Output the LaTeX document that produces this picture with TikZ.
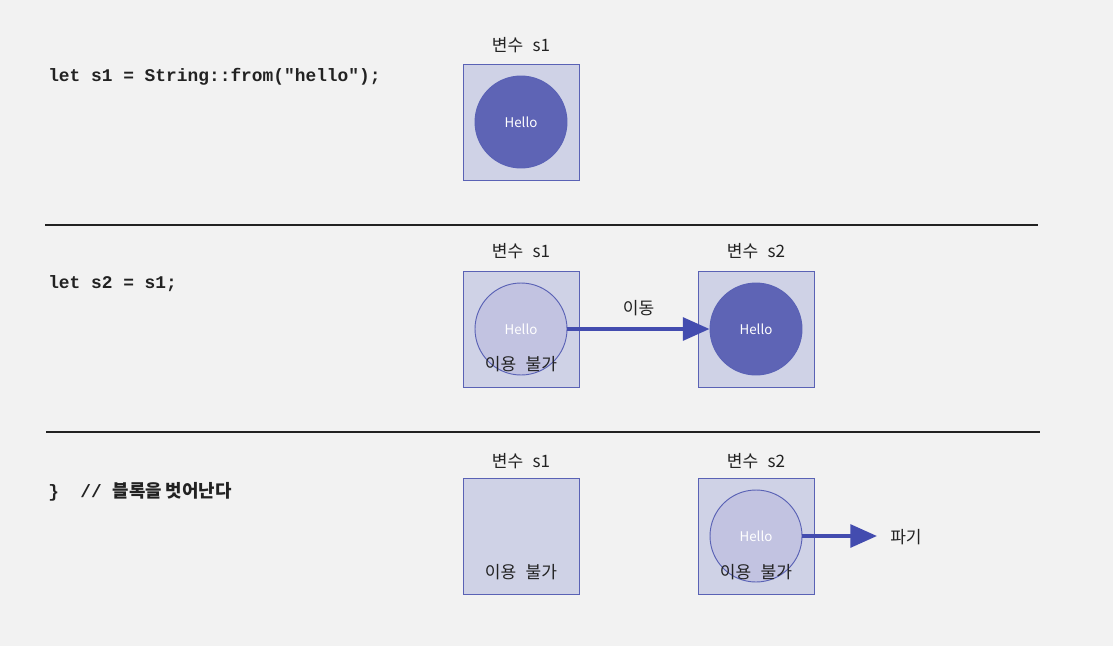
\documentclass[tikz,border=0pt]{standalone}
\usepackage{fontspec}
\setmainfont{Noto Sans CJK KR}
\newfontfamily\codefont{Liberation Mono}
\newfontfamily\cjk{Noto Sans CJK KR}
\usepackage{tikz}
\usetikzlibrary{positioning,arrows.meta}
\definecolor{bg}{HTML}{F2F2F2}
\definecolor{boxfill}{HTML}{CFD2E6}
\definecolor{boxline}{HTML}{5A62B5}
\definecolor{full}{HTML}{5E64B5}
\definecolor{faded}{HTML}{C2C3E1}
\definecolor{arr}{HTML}{434CAF}
\definecolor{txt}{HTML}{222222}
\newcommand{\gap}{\hspace{0.55em}}

\begin{document}
\begin{tikzpicture}[
	x=0.75pt, y=-0.75pt,
	var/.style={
		draw=boxline,
		fill=boxfill,
		line width=0.6pt,
		minimum size=87pt,
		inner sep=0pt
	},
	val/.style={
		draw=boxline,
		fill=full,
		circle,
		line width=0.7pt,
		minimum size=69pt,
		inner sep=0pt,
		text=white,
		font=\fontsize{10}{12}\selectfont
	},
	gone/.style={
		val,
		fill=faded
	},
	tag/.style={
		text=txt,
		inner sep=0pt,
		font=\fontsize{12.8}{14}\selectfont
	},
	src/.style={
		anchor=west,
		text=txt,
		inner sep=0pt,
		font=\codefont\bfseries\fontsize{13.4}{15}\selectfont
	},
	move/.style={
		draw=arr,
		line width=3pt,
		-{Triangle[length=20pt,width=17pt]}
	}
	]
	\fill[bg] (0,0) rectangle (1113,646);
	
	% step 1
	\node[src] (l1) at (48,77) {let s1 = String::from("hello");};
	\node[var] (b1) at (521,122) {};
	\node[val] (c1) at (521,122) {Hello};
	\node[tag] (n1) at (521,45) {변수\gap s1};
	
	\draw[txt, line width=1pt] (45,225) -- (1038,225);
	
	% step 2
	\node[src] (l2) at (48,284) {let s2 = s1;};
	\node[var] (b2) at (521,329) {};
	\node[gone] (c2) at (521,329) {Hello};
	\node[tag] (n2) at (521,251) {변수\gap s1};
	\node[tag] (u2) at (521,364) {이용\gap 불가};
	\node[var] (b3) at (756,329) {};
	\node[val] (c3) at (756,329) {Hello};
	\node[tag] (n3) at (756,251) {변수\gap s2};
	\draw[move] (c2) -- node[tag, above=8pt] (mv) {이동} (c3);
	
	\draw[txt, line width=1pt] (46,432) -- (1040,432);
	
	% step 3
	\node[src] (l3) at (48,492) {\}~~// {\cjk\bfseries 블록을 벗어난다}};
	\node[var] (b4) at (521,536) {};
	\node[tag] (n4) at (521,461) {변수\gap s1};
	\node[tag] (u4) at (521,572) {이용\gap 불가};
	\node[var] (b5) at (756,536) {};
	\node[gone] (c5) at (756,536) {Hello};
	\node[tag] (n5) at (756,461) {변수\gap s2};
	\node[tag] (u5) at (756,572) {이용\gap 불가};
	\coordinate (drop) at (877,536);
	\node[tag, anchor=west] (d5) at (890,537) {파기};
	\draw[move] (c5) -- (drop);
	
\end{tikzpicture}
\end{document}
